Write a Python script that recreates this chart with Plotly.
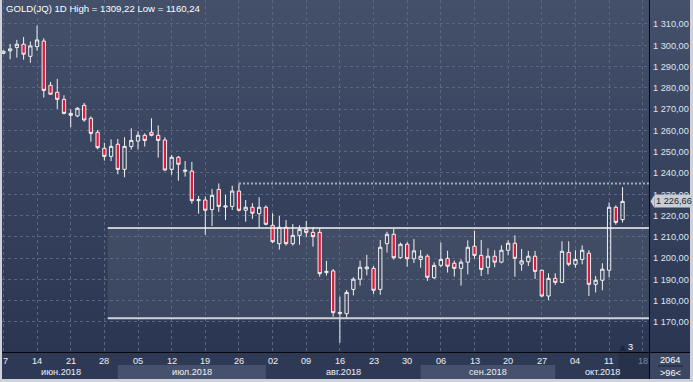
import plotly.graph_objects as go

# ---------------- data ----------------
dates = ["06-07","06-08","06-11","06-12","06-13","06-14","06-15","06-18","06-19","06-20",
         "06-21","06-22","06-25","06-26","06-27","06-28","06-29","07-02","07-03","07-04",
         "07-05","07-06","07-09","07-10","07-11","07-12","07-13","07-16","07-17","07-18",
         "07-19","07-20","07-23","07-24","07-25","07-26","07-27","07-30","07-31","08-01",
         "08-02","08-03","08-06","08-07","08-08","08-09","08-10","08-13","08-14","08-15",
         "08-16","08-17","08-20","08-21","08-22","08-23","08-24","08-27","08-28","08-29",
         "08-30","08-31","09-03","09-04","09-05","09-06","09-07","09-10","09-11","09-12",
         "09-13","09-14","09-17","09-18","09-19","09-20","09-21","09-24","09-25","09-26",
         "09-27","09-28","10-01","10-02","10-03","10-04","10-05","10-08","10-09","10-10",
         "10-11","10-12","10-15"]
opens = [1296.2,1297.4,1299.0,1300.5,1294.8,1299.4,1302.0,1281.2,1277.9,1274.6,
         1268.0,1266.8,1271.8,1265.7,1259.1,1251.6,1247.8,1253.5,1241.7,1252.4,
         1255.0,1257.7,1259.1,1257.7,1255.5,1241.7,1247.4,1240.8,1240.9,1227.0,
         1227.3,1222.8,1232.3,1224.0,1224.3,1231.5,1222.5,1223.9,1220.9,1223.9,
         1215.4,1206.8,1214.5,1206.8,1210.7,1213.5,1212.1,1212.1,1193.2,1194.0,
         1173.9,1173.9,1185.3,1190.1,1195.0,1195.2,1185.3,1206.8,1211.2,1200.2,
         1206.5,1199.7,1199.4,1200.9,1190.8,1196.6,1199.9,1197.6,1195.2,1198.1,
         1205.6,1201.3,1195.7,1200.9,1198.1,1203.7,1207.0,1197.2,1198.3,1200.9,
         1194.3,1182.2,1190.5,1188.6,1202.7,1197.1,1199.4,1202.3,1187.7,1189.6,
         1194.3,1223.9,1218.1]
highs = [1297.6,1300.6,1302.5,1303.9,1301.7,1309.22,1303.3,1282.8,1284.2,1276.5,
         1269.9,1270.9,1272.9,1266.6,1260.2,1254.2,1255.8,1256.0,1256.8,1261.0,
         1259.6,1258.6,1265.7,1262.4,1256.8,1248.5,1248.0,1245.6,1245.2,1229.2,
         1229.0,1232.5,1235.1,1229.7,1234.0,1235.1,1227.3,1225.8,1228.6,1224.8,
         1221.1,1219.8,1217.9,1216.0,1215.4,1217.5,1214.5,1214.0,1198.7,1194.9,
         1181.9,1185.0,1191.0,1198.8,1201.5,1196.3,1208.5,1212.4,1213.7,1207.3,
         1207.5,1209.0,1203.8,1201.8,1198.0,1207.3,1203.5,1198.8,1199.4,1208.4,
         1212.8,1208.5,1204.6,1203.7,1206.0,1208.4,1210.7,1204.3,1203.4,1203.4,
         1194.7,1192.9,1192.9,1207.9,1207.9,1203.7,1206.0,1203.7,1191.6,1197.6,
         1226.2,1224.8,1233.3]
lows = [1295.9,1293.4,1294.2,1293.2,1291.8,1297.5,1275.4,1276.8,1270.1,1267.5,
        1261.5,1266.2,1264.1,1254.7,1251.1,1245.8,1245.6,1239.4,1238.0,1251.0,
        1251.0,1252.4,1257.2,1247.2,1240.9,1239.1,1236.4,1238.3,1225.6,1220.9,
        1211.0,1215.1,1221.7,1217.9,1222.6,1222.0,1217.1,1218.4,1214.2,1215.4,
        1207.0,1204.0,1205.9,1205.9,1206.3,1209.8,1205.4,1191.3,1191.8,1172.5,
        1160.24,1171.7,1182.5,1187.1,1191.9,1183.2,1182.8,1202.6,1199.3,1199.7,
        1196.0,1197.7,1195.5,1189.3,1190.2,1195.7,1193.2,1191.3,1187.1,1192.4,
        1199.7,1191.6,1192.4,1195.7,1197.6,1201.3,1191.3,1194.1,1196.3,1190.2,
        1181.6,1180.3,1187.4,1188.2,1196.2,1195.5,1197.1,1182.2,1183.9,1184.9,
        1191.0,1215.7,1216.7]
closes = [1297.2,1298.3,1300.5,1295.8,1299.7,1302.5,1278.8,1277.0,1274.6,1268.0,
          1267.1,1270.4,1264.9,1258.6,1251.9,1247.8,1252.5,1241.7,1252.5,1255.3,
          1257.7,1255.3,1257.7,1255.3,1241.4,1247.4,1244.1,1241.3,1227.0,1227.5,
          1222.5,1229.5,1224.3,1224.5,1231.5,1222.5,1223.9,1221.1,1223.9,1215.9,
          1207.7,1214.5,1206.8,1210.7,1213.5,1212.1,1210.1,1192.7,1193.8,1174.4,
          1174.5,1183.9,1190.1,1195.7,1195.8,1184.9,1205.1,1211.2,1200.2,1206.5,
          1199.7,1203.4,1200.9,1191.0,1196.6,1199.4,1196.2,1195.2,1198.1,1205.1,
          1201.3,1194.7,1200.9,1198.1,1203.7,1207.0,1199.9,1198.7,1200.9,1193.8,
          1182.2,1190.5,1188.6,1203.2,1197.1,1199.4,1203.7,1187.7,1189.6,1194.8,
          1223.9,1216.8,1226.66]

price_ticks = [1170, 1180, 1190, 1200, 1210, 1220, 1230, 1240, 1250, 1260, 1270, 1280, 1290, 1300, 1310]
price_tick_labels = ["1 170,00", "1 180,00", "1 190,00", "1 200,00", "1 210,00", "1 220,00", "1 230,00",
                     "1 240,00", "1 250,00", "1 260,00", "1 270,00", "1 280,00", "1 290,00", "1 300,00", "1 310,00"]
day_tick_idx = [0, 5, 10, 15, 20, 25, 30, 35, 40, 45, 50, 55, 60, 65, 70, 75, 80, 85, 90, 95]
day_tick_labels = ["7", "14", "21", "28", "05", "12", "19", "26", "02", "09", "16", "23", "30",
                   "06", "13", "20", "27", "04", "11", "18"]
month_labels = ["июн.2018", "июл.2018", "авг.2018", "сен.2018", "окт.2018"]
month_start_idx = [0, 17, 39, 62, 82]

title_text = "GOLD(JQ) 1D High = 1309,22 Low = 1160,24"
last_price_label = "1 226,66"
last_price = 1226.66
resistance_level = 1214.2
support_level = 1171.7
box_start_idx = 15.5
prior_high_level = 1235.1
prior_high_idx = 35
corner_top = "2064"
corner_bottom = ">96<"
right_count = "3"

# ---------------- geometry helpers ----------------
W, H = 693, 382
ML, MR, MT, MB = 2, 44, 0, 30
PW, PH = W - ML - MR, H - MT - MB
X_RANGE = [-0.21, 95.93]
Y_RANGE = [1155.9, 1321.27]
FONT = "Liberation Sans, Arial, sans-serif"


def px(xp):
    return (xp - ML) / PW


def py(yp):
    return (MT + PH - yp) / PH


xs = list(range(len(dates)))

fig = go.Figure()
fig.add_trace(go.Candlestick(
    x=xs, open=opens, high=highs, low=lows, close=closes,
    increasing=dict(line=dict(color="#f2f2f2", width=1), fillcolor="rgba(0,0,0,0)"),
    decreasing=dict(line=dict(color="#f2f2f2", width=1), fillcolor="#e0193c"),
    whiskerwidth=0, hoverinfo="skip", showlegend=False,
))

shapes = []
# gradient background (plot + right axis)
top = (68, 80, 106)
bot = (43, 55, 82)
N = 44
for k in range(N):
    t = k / (N - 1)
    c = tuple(int(round(top[j] + (bot[j] - top[j]) * t)) for j in range(3))
    y0p = PH * k / N
    y1p = PH * (k + 1) / N + 0.6
    shapes.append(dict(type="rect", xref="paper", yref="paper", x0=px(2), x1=px(690),
                       y0=py(min(y1p, PH)), y1=py(y0p), fillcolor="rgb(%d,%d,%d)" % c,
                       line=dict(width=0), layer="below"))
# bottom axis area
shapes.append(dict(type="rect", xref="paper", yref="paper", x0=px(2), x1=px(690), y0=py(379), y1=py(352),
                   fillcolor="#2e3a55", line=dict(width=0), layer="below"))
# month bands (alternate)
ends = month_start_idx[1:] + [X_RANGE[1]]
for k, (s, e) in enumerate(zip(month_start_idx, ends)):
    if k % 2 == 1:
        shapes.append(dict(type="rect", xref="x", yref="paper", x0=s, x1=e, y0=py(379), y1=py(365),
                           fillcolor="#46526d", line=dict(width=0), layer="below"))
# dark block at the right of the time axis
shapes.append(dict(type="rect", xref="x", yref="paper", x0=91.4, x1=X_RANGE[1], y0=py(379), y1=py(352),
                   fillcolor="#27314a", line=dict(width=0), layer="below"))
# corner box
shapes.append(dict(type="rect", xref="paper", yref="paper", x0=px(649), x1=px(690), y0=py(379), y1=py(352),
                   fillcolor="#3b4763", line=dict(width=0), layer="below"))
shapes.append(dict(type="line", xref="paper", yref="paper", x0=px(658), x1=px(683), y0=py(366), y1=py(366),
                   line=dict(color="#1c2333", width=1)))
# trading range box
shapes.append(dict(type="rect", xref="x", yref="y", x0=box_start_idx, x1=X_RANGE[1] + 1,
                   y0=support_level, y1=resistance_level, fillcolor="rgba(255,255,255,0.07)",
                   line=dict(width=0), layer="below"))
shapes.append(dict(type="line", xref="x", yref="y", x0=box_start_idx, x1=X_RANGE[1] + 1,
                   y0=resistance_level, y1=resistance_level, line=dict(color="#f4f4f4", width=1.5)))
shapes.append(dict(type="line", xref="x", yref="y", x0=box_start_idx, x1=X_RANGE[1] + 1,
                   y0=support_level, y1=support_level, line=dict(color="#cfd2d8", width=2)))
# previous high dotted line
shapes.append(dict(type="line", xref="x", yref="y", x0=prior_high_idx, x1=X_RANGE[1] + 1,
                   y0=prior_high_level, y1=prior_high_level,
                   line=dict(color="#a9aeb8", width=2, dash="2px,2px")))
# separators
shapes.append(dict(type="line", xref="paper", yref="paper", x0=px(649.5), x1=px(649.5), y0=py(379), y1=py(0),
                   line=dict(color="#05070c", width=1)))
shapes.append(dict(type="line", xref="paper", yref="paper", x0=px(2), x1=px(690), y0=py(352.5), y1=py(352.5),
                   line=dict(color="#05070c", width=1)))
# small triangle marker near bottom right
shapes.append(dict(type="path", xref="paper", yref="paper",
                   path="M %f %f L %f %f L %f %f Z" % (px(619), py(351), px(622.5), py(345), px(626), py(351)),
                   fillcolor="#1f2638", line=dict(width=0)))
# price tag arrow
shapes.append(dict(type="path", xref="paper", yref="y",
                   path="M %f %f L %f %f L %f %f Z" % (px(650.5), last_price, px(654.5), last_price + 3.1,
                                                      px(654.5), last_price - 3.1),
                   fillcolor="#c9cdd5", line=dict(width=0)))

annotations = []
annotations.append(dict(text=title_text, xref="paper", yref="paper", x=px(4), y=py(8.5), xanchor="left",
                        yanchor="middle", showarrow=False,
                        font=dict(family=FONT, size=9.6, color="#ffffff")))
for idx, lab in zip(day_tick_idx, day_tick_labels):
    col = "#7e8799" if idx > len(dates) else "#eef0f4"
    shift = 2 if idx == 0 else 0
    annotations.append(dict(text=lab, xref="x", yref="paper", x=idx, y=py(360.5), xanchor="center",
                            yanchor="middle", xshift=shift, showarrow=False,
                            font=dict(family=FONT, size=9.2, color=col)))
for k, (s, e) in enumerate(zip(month_start_idx, ends)):
    s_vis = max(s, X_RANGE[0])
    annotations.append(dict(text=month_labels[k], xref="x", yref="paper", x=(s_vis + e) / 2, y=py(372),
                            xanchor="center", yanchor="middle", showarrow=False,
                            font=dict(family=FONT, size=9.2, color="#eef0f4")))
annotations.append(dict(text=right_count, xref="paper", yref="paper", x=px(630), y=py(347), xanchor="center",
                        yanchor="middle", showarrow=False,
                        font=dict(family=FONT, size=9.2, color="#ffffff")))
annotations.append(dict(text=corner_top, xref="paper", yref="paper", x=px(670), y=py(359.5), xanchor="center",
                        yanchor="middle", showarrow=False,
                        font=dict(family=FONT, size=9.2, color="#ffffff")))
annotations.append(dict(text=corner_bottom, xref="paper", yref="paper", x=px(670), y=py(373), xanchor="center",
                        yanchor="middle", showarrow=False,
                        font=dict(family=FONT, size=9.2, color="#ffffff")))
annotations.append(dict(text=last_price_label, xref="paper", yref="y", x=px(654), y=last_price,
                        xanchor="left", yanchor="middle", showarrow=False, bgcolor="#c9cdd5",
                        borderpad=1, align="left",
                        font=dict(family=FONT, size=9.2, color="#1a1f2b")))

fig.update_layout(
    width=W, height=H,
    margin=dict(l=ML, r=MR, t=MT, b=MB, pad=0),
    paper_bgcolor="#cfd2d8",
    plot_bgcolor="rgba(0,0,0,0)",
    showlegend=False,
    shapes=shapes,
    annotations=annotations,
    xaxis=dict(range=X_RANGE, tickvals=day_tick_idx, showticklabels=False, ticks="",
               showgrid=True, gridcolor="#5b6782", griddash="3px,3px", gridwidth=1,
               zeroline=False, showline=False, rangeslider=dict(visible=False), fixedrange=True),
    yaxis=dict(range=Y_RANGE, side="right", tickvals=price_ticks, ticktext=price_tick_labels,
               showgrid=True, gridcolor="#5b6782", griddash="3px,3px", gridwidth=1, ticks="",
               ticklabelstandoff=3, zeroline=False, showline=False, fixedrange=True,
               tickfont=dict(family=FONT, size=9.2, color="#dfe5f0")),
)

fig.write_html("out.html", config=dict(displayModeBar=False),
               post_script="document.body.style.margin='0';document.body.style.overflow='hidden';")
